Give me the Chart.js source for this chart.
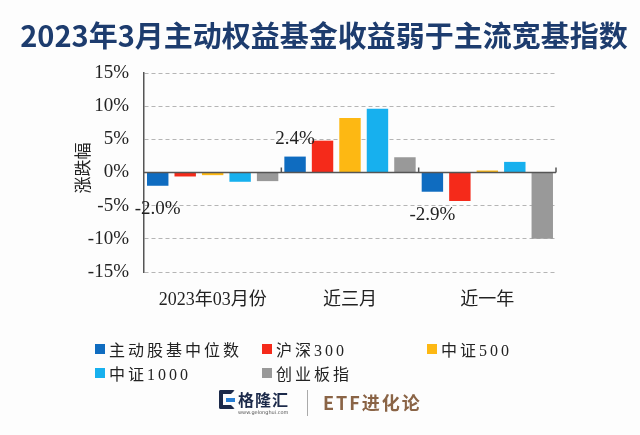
<!DOCTYPE html>
<html><head><meta charset="utf-8">
<script src="https://cdn.jsdelivr.net/npm/chart.js@4.4.0/dist/chart.umd.min.js"></script>
<style>
html,body{margin:0;padding:0;background:#fdfdfd;}
#wrap{position:relative;width:640px;height:435px;overflow:hidden;background:#fdfdfd;}
#c{position:absolute;left:0;top:0;}
#title{position:absolute;left:0;width:648px;top:13px;text-align:center;font-family:"Noto Sans CJK SC";font-weight:700;font-size:29px;color:#1d3c6e;white-space:nowrap;}
#legend{position:absolute;left:95px;top:337px;display:grid;grid-template-columns:167px 165px auto;grid-auto-rows:24px;font-family:"Liberation Serif","Noto Sans CJK SC";font-size:16px;color:#222;letter-spacing:3px;}
#legend .it{display:flex;align-items:center;white-space:nowrap;}
#legend .bx{width:10px;height:10px;margin-right:4px;flex:none;}
#footer{position:absolute;left:0;top:385px;width:640px;height:40px;}
</style></head>
<body><div id="wrap">
<canvas id="c" width="640" height="435"></canvas>
<div id="title">2023年3月主动权益基金收益弱于主流宽基指数</div>
<div id="legend"></div>
<div id="footer">
  <div style="position:absolute;left:219px;top:5px;width:16px;height:19px;border:4px solid #1c2a4a;border-right-color:transparent;border-radius:2px;box-sizing:border-box;"></div>
  <div style="position:absolute;left:226px;top:13px;width:9px;height:4px;background:#2a7fd4;"></div>
  <div style="position:absolute;left:238px;top:5px;font-family:'Noto Sans CJK SC';font-weight:700;font-size:16px;line-height:18px;color:#1c2a4a;letter-spacing:1px;">格隆汇</div>
  <div style="position:absolute;left:238px;top:24px;font-family:'DejaVu Sans';font-size:5px;line-height:6px;color:#555;">www.gelonghui.com</div>
  <div style="position:absolute;left:307px;top:5px;width:1px;height:26px;background:#aaa;"></div>
  <div style="position:absolute;left:323px;top:6px;font-family:'Noto Sans CJK SC';font-weight:700;font-size:18px;line-height:22px;color:#8a6446;letter-spacing:2px;">ETF进化论</div>
</div>
</div>
<script>
const categories = ['2023年03月份', '近三月', '近一年'];
const seriesNames = ['主动股基中位数', '沪深300', '中证500', '中证1000', '创业板指'];
const activeFundMedian = [-2.0, 2.4, -2.9];
const hs300 = [-0.6, 4.8, -4.3];
const csi500 = [-0.4, 8.2, 0.3];
const csi1000 = [-1.4, 9.6, 1.6];
const chinext = [-1.3, 2.3, -10.0];
const yTicks = [-15, -10, -5, 0, 5, 10, 15];
const labelledSeries = 0;

const colors = ['#0f6cc0', '#f52a1a', '#fdb813', '#17b0ee', '#999999'];
const allSeries = [activeFundMedian, hs300, csi500, csi1000, chinext];

const serif = '"Liberation Serif", "Noto Sans CJK SC"';

const leg = document.getElementById('legend');
seriesNames.forEach((n, i) => {
  const d = document.createElement('div'); d.className = 'it';
  d.innerHTML = '<span class="bx" style="background:' + colors[i] + '"></span><span>' + n + '</span>';
  leg.appendChild(d);
});

const decor = {
  id: 'decor',
  afterDatasetsDraw(chart) {
    const ctx = chart.ctx, y = chart.scales.y, a = chart.chartArea;
    const y0 = y.getPixelForValue(0);
    ctx.save();
    ctx.strokeStyle = '#555'; ctx.lineWidth = 1.5;
    ctx.beginPath(); ctx.moveTo(a.left, y0); ctx.lineTo(a.right, y0); ctx.stroke();
    const n = categories.length;
    for (let i = 1; i <= n; i++) {
      const px = a.left + (a.right - a.left) * i / n;
      ctx.beginPath(); ctx.moveTo(px, y0); ctx.lineTo(px, y0 - 5); ctx.stroke();
    }
    const meta = chart.getDatasetMeta(labelledSeries);
    ctx.fillStyle = '#222'; ctx.font = '19px ' + serif;
    ctx.textAlign = 'center'; ctx.textBaseline = 'middle';
    meta.data.forEach((bar, i) => {
      const v = allSeries[labelledSeries][i];
      const t = v.toFixed(1) + '%';
      const ty = v < 0 ? bar.y + 23 : bar.y - 18;
      ctx.fillText(t, bar.x, ty);
    });
    ctx.translate(83, 168); ctx.rotate(-Math.PI / 2);
    ctx.font = '17px "Noto Sans CJK SC"'; ctx.fillStyle = '#222';
    ctx.fillText('涨跌幅', 0, 0);
    ctx.restore();
  }
};

new Chart(document.getElementById('c'), {
  type: 'bar',
  data: {
    labels: categories,
    datasets: seriesNames.map((n, i) => ({
      label: n, data: allSeries[i], backgroundColor: colors[i],
      categoryPercentage: 1.0, barPercentage: 0.78, borderWidth: 0
    }))
  },
  options: {
    responsive: false, animation: false,
    layout: { padding: { left: 0, right: 84, top: 73, bottom: 125 } },
    plugins: { legend: { display: false }, tooltip: { enabled: false } },
    scales: {
      x: {
        grid: { display: false, drawTicks: false },
        border: { display: false },
        ticks: { font: { family: serif, size: 18 }, color: '#222', padding: 17 },
        afterFit(s) { s.height = 38; }
      },
      y: {
        min: -15, max: 15,
        afterBuildTicks(s) { s.ticks = yTicks.map(v => ({ value: v })); },
        grid: {
          drawTicks: false,
          color: c => (c.tick && c.tick.value === 0) ? 'rgba(0,0,0,0)' : '#b5b5b5',
          lineWidth: 1
        },
        border: { display: true, color: '#555', width: 1.5, dash: [4, 3] },
        ticks: { font: { family: serif, size: 19 }, color: '#222', padding: 15, callback: v => v + '%' },
        afterFit(s) { s.width = 144; }
      }
    }
  },
  plugins: [decor]
});
</script>
</body></html>
